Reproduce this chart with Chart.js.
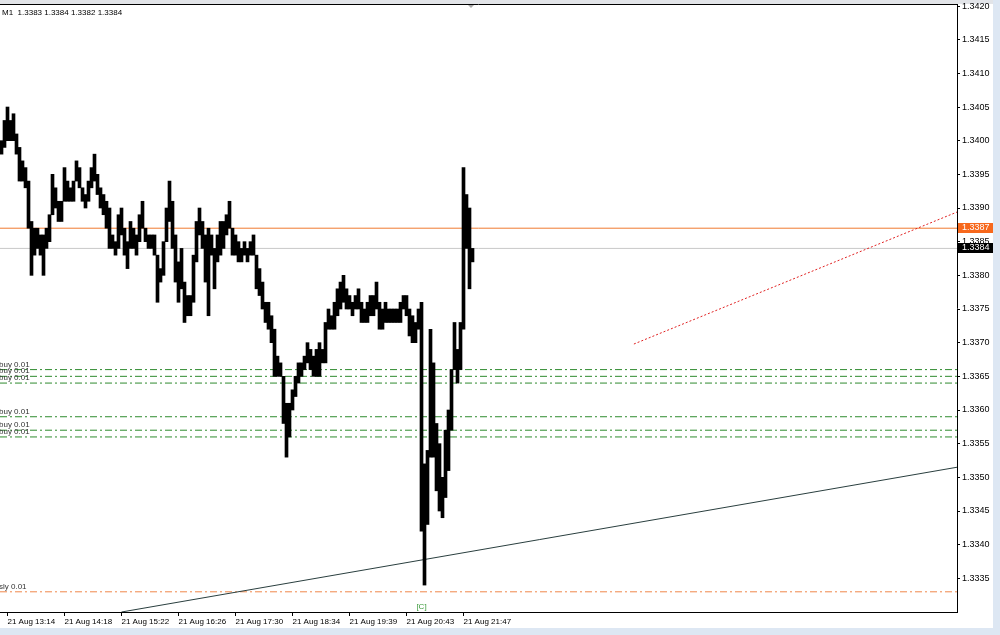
<!DOCTYPE html>
<html><head><meta charset="utf-8">
<script src="https://cdn.jsdelivr.net/npm/chart.js@4.4.0/dist/chart.umd.min.js"></script>
<style>
html,body{margin:0;padding:0;background:#dde7f3;width:1000px;height:635px;overflow:hidden}
#wrap{position:absolute;left:0;top:0;width:993px;height:628px;background:#fff}
#hdr{position:absolute;left:2px;top:8px;font:8px "Liberation Sans",Arial,sans-serif;color:#000;white-space:pre;line-height:10px}
canvas{position:absolute;left:0;top:0}
</style></head><body>
<div id="wrap"><canvas id="c" width="993" height="628"></canvas><div id="hdr">M1  1.3383 1.3384 1.3382 1.3384</div></div>
<script>
// per-column (≈3.4 minute) high / low prices, EURUSD-style M1 chart
const highs = [1.3400,1.3403,1.3405,1.3403,1.3404,1.3401,1.3399,1.3397,1.3396,1.3394,
1.3388,1.3387,1.3387,1.3386,1.3386,1.3387,1.3389,1.3395,1.3393,1.3391,
1.3391,1.3396,1.3394,1.3393,1.3394,1.3397,1.3396,1.3393,1.3392,1.3394,
1.3396,1.3398,1.3395,1.3393,1.3392,1.3391,1.3390,1.3386,1.3385,1.3389,
1.3390,1.3387,1.3385,1.3388,1.3387,1.3386,1.3389,1.3391,1.3387,1.3386,
1.3386,1.3386,1.3383,1.3381,1.3385,1.3390,1.3394,1.3391,1.3386,1.3382,
1.3384,1.3379,1.3377,1.3377,1.3383,1.3388,1.3390,1.3388,1.3386,1.3387,
1.3386,1.3384,1.3386,1.3388,1.3388,1.3389,1.3391,1.3387,1.3386,1.3385,
1.3384,1.3385,1.3384,1.3385,1.3386,1.3383,1.3381,1.3379,1.3376,1.3376,
1.3374,1.3372,1.3368,1.3367,1.3365,1.3361,1.3361,1.3363,1.3365,1.3367,
1.3367,1.3368,1.3370,1.3369,1.3368,1.3369,1.3370,1.3369,1.3373,1.3375,
1.3374,1.3376,1.3378,1.3379,1.3380,1.3378,1.3377,1.3376,1.3377,1.3378,
1.3376,1.3375,1.3376,1.3377,1.3377,1.3379,1.3376,1.3375,1.3376,1.3375,
1.3375,1.3375,1.3375,1.3376,1.3377,1.3377,1.3375,1.3374,1.3373,1.3375,
1.3376,1.3352,1.3354,1.3372,1.3367,1.3358,1.3355,1.3350,1.3357,1.3360,
1.3366,1.3373,1.3369,1.3373,1.3396,1.3392,1.3390,1.3384];
const lows = [1.3398,1.3399,1.3400,1.3400,1.3400,1.3398,1.3394,1.3394,1.3393,1.3387,
1.3380,1.3383,1.3384,1.3383,1.3380,1.3384,1.3385,1.3389,1.3390,1.3388,
1.3388,1.3391,1.3391,1.3391,1.3391,1.3394,1.3393,1.3391,1.3390,1.3391,
1.3393,1.3394,1.3392,1.3390,1.3389,1.3387,1.3384,1.3384,1.3383,1.3384,
1.3386,1.3383,1.3381,1.3384,1.3384,1.3383,1.3385,1.3387,1.3385,1.3384,
1.3384,1.3383,1.3376,1.3379,1.3380,1.3385,1.3388,1.3384,1.3379,1.3376,
1.3378,1.3373,1.3374,1.3374,1.3376,1.3382,1.3386,1.3384,1.3379,1.3374,
1.3383,1.3378,1.3382,1.3383,1.3384,1.3386,1.3387,1.3383,1.3383,1.3382,
1.3382,1.3383,1.3382,1.3383,1.3383,1.3378,1.3377,1.3375,1.3373,1.3372,
1.3370,1.3365,1.3365,1.3365,1.3358,1.3353,1.3356,1.3360,1.3362,1.3364,
1.3365,1.3366,1.3367,1.3366,1.3365,1.3365,1.3365,1.3367,1.3367,1.3372,
1.3372,1.3372,1.3374,1.3375,1.3376,1.3375,1.3375,1.3374,1.3375,1.3375,
1.3373,1.3373,1.3373,1.3374,1.3374,1.3375,1.3372,1.3372,1.3373,1.3373,
1.3373,1.3373,1.3373,1.3373,1.3375,1.3374,1.3371,1.3370,1.3370,1.3372,
1.3342,1.3334,1.3343,1.3353,1.3353,1.3348,1.3345,1.3344,1.3347,1.3351,
1.3357,1.3366,1.3364,1.3366,1.3372,1.3384,1.3378,1.3382];

const timeLabels = ['21 Aug 13:14','21 Aug 14:18','21 Aug 15:22','21 Aug 16:26','21 Aug 17:30','21 Aug 18:34','21 Aug 19:39','21 Aug 20:43','21 Aug 21:47'];
const timeLabelBars = [2,21,40,59,78,97,116,135,154];
const priceTicks = [1.3335,1.3340,1.3345,1.3350,1.3355,1.3360,1.3365,1.3370,1.3375,1.3380,1.3385,1.3390,1.3395,1.3400,1.3405,1.3410,1.3415,1.3420];

const askLevel = 1.3387;
const bidLevel = 1.3384;
const buyLevels = [1.3366,1.3365,1.3364,1.3359,1.3357,1.3356];
const buyTexts = ['buy 0.01','buy 0.01','buy 0.01','buy 0.01','buy 0.01','buy 0.01'];
const sellLevels = [1.3333];
const sellTexts = ['sly 0.01'];
const trendBars = [40, 318.5];
const trendPrices = [1.3330, 1.33515];
const redBars = [210.8, 318.5];
const redPrices = [1.33698, 1.33894];
const markText = '[C]';
const markBar = 140;
const markPrice = 1.33308;

const X_MIN = -0.5, X_MAX = 318.5;
const hline = (v) => [{x:X_MIN,y:v},{x:X_MAX,y:v}];
const lineDs = (data,color,dash,order) => ({type:'line',data,borderColor:color,borderWidth:1,borderDash:dash,pointRadius:0,fill:false,order:order||2});

const datasets = [
  {type:'bar', data: highs.map((h,i)=>({x:i,y:[lows[i],h]})), backgroundColor:'#000', borderWidth:0, barThickness:3, order:0},
  lineDs(hline(askLevel),'#f07a30',[],3),
  lineDs(hline(bidLevel),'#c8c8c8',[],3),
  ...buyLevels.map(v=>lineDs(hline(v),'#2e8b2e',[7,3,2,3],3)),
  ...sellLevels.map(v=>lineDs(hline(v),'#f0884a',[7,3,2,3],3)),
  lineDs(trendBars.map((b,i)=>({x:b,y:trendPrices[i]})),'#2a3f3f',[],1),
  lineDs(redBars.map((b,i)=>({x:b,y:redPrices[i]})),'#e02020',[2,2],1)
];

const deco = {
  id:'deco',
  beforeDraw(chart){
    const ctx=chart.ctx;
    ctx.save(); ctx.fillStyle='#e2e4e8'; ctx.fillRect(0,0,chart.width,4); ctx.restore();
  },
  afterDatasetsDraw(chart){
    const ctx=chart.ctx, ys=chart.scales.y, xs=chart.scales.x, a=chart.chartArea;
    ctx.save();
    ctx.font='8px "Liberation Sans", Arial, sans-serif';
    ctx.textBaseline='bottom'; ctx.textAlign='left'; ctx.fillStyle='#333';
    buyLevels.forEach((v,i)=>ctx.fillText(buyTexts[i], a.left-1, Math.round(ys.getPixelForValue(v))-1));
    sellLevels.forEach((v,i)=>ctx.fillText(sellTexts[i], a.left-1, Math.round(ys.getPixelForValue(v))-1));
    ctx.fillStyle='#3a9a3a'; ctx.textAlign='center'; ctx.textBaseline='middle';
    ctx.fillText(markText, xs.getPixelForValue(markBar), ys.getPixelForValue(markPrice));
    // chart shift marker
    const tx = xs.getPixelForValue(highs.length-1.5);
    ctx.fillStyle='#a8a8a8';
    ctx.beginPath(); ctx.moveTo(tx-4,a.top); ctx.lineTo(tx+4,a.top); ctx.lineTo(tx,a.top+4); ctx.closePath(); ctx.fill();
    ctx.restore();
  },
  afterDraw(chart){
    const ctx=chart.ctx, ys=chart.scales.y, a=chart.chartArea;
    ctx.save();
    ctx.strokeStyle='#000'; ctx.lineWidth=1;
    ctx.beginPath(); ctx.moveTo(0,a.top+0.5); ctx.lineTo(a.right,a.top+0.5); ctx.stroke();
    const box=(v,bg)=>{
      const py=Math.round(ys.getPixelForValue(v));
      ctx.fillStyle=bg; ctx.fillRect(a.right+1,py-5,35,10);
      ctx.fillStyle='#fff'; ctx.font='9px "Liberation Sans", Arial, sans-serif';
      ctx.textBaseline='middle'; ctx.textAlign='left';
      ctx.fillText(v.toFixed(4), a.right+5, py);
    };
    box(askLevel,'#f7681c');
    box(bidLevel,'#000');
    ctx.restore();
  }
};

new Chart(document.getElementById('c'), {
  type:'bar',
  data:{datasets},
  options:{
    responsive:false, animation:false, devicePixelRatio:1,
    layout:{padding:{top:4,left:0,right:0,bottom:0}},
    plugins:{legend:{display:false}, tooltip:{enabled:false}},
    scales:{
      x:{type:'linear', min:X_MIN, max:X_MAX, offset:false,
        grid:{drawOnChartArea:false, drawTicks:true, tickLength:4, color:'#000', offset:false},
        border:{display:true, color:'#000'},
        ticks:{autoSkip:false, maxRotation:0, minRotation:0, align:'start', padding:1,
          font:{family:'Liberation Sans', size:8}, color:'#000',
          callback:(v)=>{const i=timeLabelBars.indexOf(v); return i>=0?timeLabels[i]:'';}},
        afterBuildTicks:(s)=>{s.ticks=timeLabelBars.map(v=>({value:v}));},
        afterFit:(s)=>{s.height=16; s.paddingLeft=0; s.paddingRight=0;}
      },
      y:{type:'linear', position:'right', min:1.3330, max:1.34203,
        grid:{drawOnChartArea:false, drawTicks:true, tickLength:3, color:'#000'},
        border:{display:true, color:'#000'},
        ticks:{padding:2, font:{family:'Liberation Sans', size:9}, color:'#000', callback:(v)=>Number(v).toFixed(4)},
        afterBuildTicks:(s)=>{s.ticks=priceTicks.map(v=>({value:v}));},
        afterFit:(s)=>{s.width=36; s.paddingTop=0; s.paddingBottom=0;}
      }
    }
  },
  plugins:[deco]
});
</script>
</body></html>
